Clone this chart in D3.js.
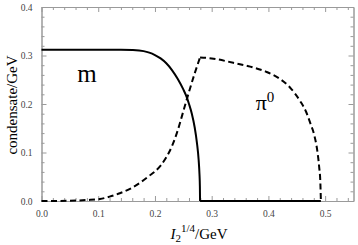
<!DOCTYPE html>
<html><head><meta charset="utf-8">
<script src="https://cdn.jsdelivr.net/npm/d3@7"></script>
<style>body{margin:0;background:#fff}svg{display:block}</style>
</head><body>
<script>
const mX = [0, 0.05, 0.1, 0.14, 0.16, 0.18, 0.19, 0.2, 0.21, 0.22, 0.23, 0.24, 0.25, 0.256, 0.26, 0.265, 0.27, 0.274, 0.277, 0.2785, 0.2792, 0.2795, 0.4925];
const mY = [0.312, 0.312, 0.312, 0.3118, 0.3112, 0.309, 0.306, 0.301, 0.294, 0.284, 0.270, 0.252, 0.230, 0.214, 0.200, 0.180, 0.152, 0.120, 0.085, 0.055, 0.03, 0, 0];
const piX = [0, 0.05, 0.08, 0.103, 0.12, 0.138, 0.156, 0.174, 0.19, 0.2, 0.21, 0.22, 0.23, 0.24, 0.25, 0.26, 0.27, 0.2795, 0.3, 0.338, 0.368, 0.397, 0.42, 0.438, 0.456, 0.466, 0.474, 0.481, 0.486, 0.4895, 0.4915, 0.4925];
const piY = [0, 0.0005, 0.002, 0.004, 0.009, 0.016, 0.025, 0.038, 0.052, 0.061, 0.073, 0.090, 0.113, 0.145, 0.185, 0.225, 0.263, 0.296, 0.294, 0.285, 0.277, 0.266, 0.252, 0.234, 0.206, 0.185, 0.16, 0.135, 0.105, 0.07, 0.04, 0];
const xTicks = [0.0, 0.1, 0.2, 0.3, 0.4, 0.5];
const yTicks = [0.0, 0.1, 0.2, 0.3, 0.4];

const W = 358, H = 245;
const L = 41.5, R = 353.5, T = 7, B = 201;
const svg = d3.select("body").append("svg").attr("width", W).attr("height", H);
const x = d3.scaleLinear().domain([0, 0.55]).range([L, R]);
const y = d3.scaleLinear().domain([0, 0.4]).range([B, T]);

const frameCol = "#9a9a9a";
const fmt = d3.format(".1f");
const minorX = d3.range(0, 0.5501, 0.02).filter(v => Math.abs(v*10 - Math.round(v*10)) > 1e-6);
const minorY = d3.range(0, 0.4001, 0.02).filter(v => Math.abs(v*10 - Math.round(v*10)) > 1e-6);

function styleAxis(g){
  g.select(".domain").attr("stroke", frameCol).attr("stroke-width", 1);
  g.selectAll(".tick line").attr("stroke", frameCol);
  g.selectAll(".tick text").attr("fill", "#444").attr("font-family", "Liberation Serif, serif").attr("font-size", 9.5);
}
svg.append("g").attr("transform", `translate(0,${B})`)
  .call(d3.axisBottom(x).tickValues(xTicks).tickFormat(fmt).tickSizeInner(-5).tickSizeOuter(0).tickPadding(9)).call(styleAxis);
svg.append("g").attr("transform", `translate(0,${B})`)
  .call(d3.axisBottom(x).tickValues(minorX).tickFormat("").tickSizeInner(-3).tickSizeOuter(0)).call(styleAxis);
svg.append("g").attr("transform", `translate(0,${T})`)
  .call(d3.axisTop(x).tickValues(xTicks).tickFormat("").tickSizeInner(-5).tickSizeOuter(0)).call(styleAxis);
svg.append("g").attr("transform", `translate(0,${T})`)
  .call(d3.axisTop(x).tickValues(minorX).tickFormat("").tickSizeInner(-3).tickSizeOuter(0)).call(styleAxis);
svg.append("g").attr("transform", `translate(${L},0)`)
  .call(d3.axisLeft(y).tickValues(yTicks).tickFormat(fmt).tickSizeInner(-5).tickSizeOuter(0).tickPadding(9)).call(styleAxis);
svg.append("g").attr("transform", `translate(${L},0)`)
  .call(d3.axisLeft(y).tickValues(minorY).tickFormat("").tickSizeInner(-3).tickSizeOuter(0)).call(styleAxis);
svg.append("g").attr("transform", `translate(${R},0)`)
  .call(d3.axisRight(y).tickValues(yTicks).tickFormat("").tickSizeInner(-5).tickSizeOuter(0)).call(styleAxis);
svg.append("g").attr("transform", `translate(${R},0)`)
  .call(d3.axisRight(y).tickValues(minorY).tickFormat("").tickSizeInner(-3).tickSizeOuter(0)).call(styleAxis);

const line = d3.line().x(d => x(d[0])).y(d => y(d[1])).curve(d3.curveMonotoneX);
const mPts = mX.map((v, i) => [v, mY[i]]);
const piPts = piX.map((v, i) => [v, piY[i]]);
const mZero = mY.indexOf(0);
const piPeak = piY.indexOf(d3.max(piY));

function draw(pts, dash){
  svg.append("path").attr("d", line(pts)).attr("fill", "none").attr("stroke", "#000")
    .attr("stroke-width", 2).attr("stroke-dasharray", dash || null);
}
draw(piPts.slice(0, piPeak + 1), "6,3.5");
draw(piPts.slice(piPeak), "6,3.5");
draw(mPts.slice(0, mZero + 1));
draw(mPts.slice(mZero));

svg.append("text").attr("x", x(0.08)).attr("y", y(0.245)).attr("font-family", "Liberation Serif, serif")
  .attr("font-size", 25).attr("text-anchor", "middle").text("m");
const pt = svg.append("text").attr("x", x(0.394)).attr("y", y(0.187)).attr("font-family", "Liberation Serif, serif")
  .attr("font-size", 22).attr("text-anchor", "middle");
pt.append("tspan").text("π");
pt.append("tspan").attr("dy", -8).attr("font-size", 15).text("0");

svg.append("text").attr("transform", `translate(17,${(T + B) / 2 + 1}) rotate(-90)`).attr("text-anchor", "middle")
  .attr("font-family", "Liberation Serif, serif").attr("font-size", 15).text("condensate/GeV");

const xl = svg.append("text").attr("x", 199).attr("y", 239).attr("text-anchor", "middle")
  .attr("font-family", "Liberation Serif, serif").attr("font-size", 15);
xl.append("tspan").attr("font-style", "italic").text("I");
xl.append("tspan").attr("font-size", 11).attr("dy", 3).text("2");
xl.append("tspan").attr("font-size", 11).attr("dy", -10).text("1/4");
xl.append("tspan").attr("dy", 7).text("/GeV");
</script>
</body></html>
